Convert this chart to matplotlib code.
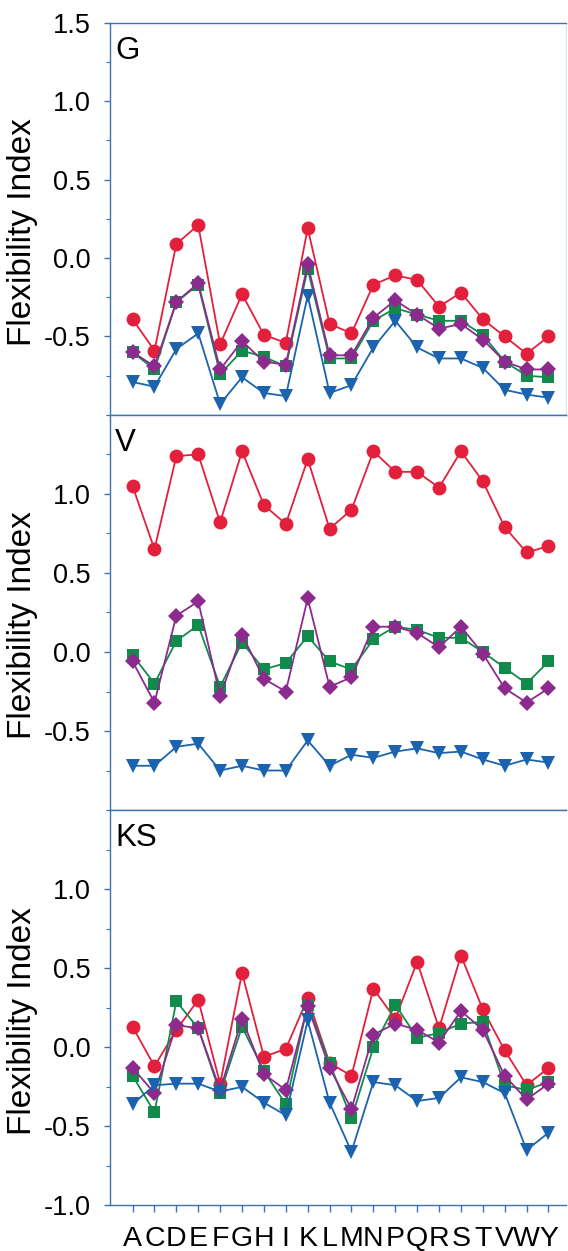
import matplotlib
matplotlib.use('Agg')
import matplotlib.pyplot as plt
from matplotlib.ticker import MultipleLocator

plt.rcParams['font.family'] = ['Liberation Sans', 'DejaVu Sans']

# amino acids on the x axis
residues = ['A', 'C', 'D', 'E', 'F', 'G', 'H', 'I', 'K', 'L',
            'M', 'N', 'P', 'Q', 'R', 'S', 'T', 'V', 'W', 'Y']

# panel G
g_red = [-0.39, -0.59, 0.09, 0.21, -0.55, -0.23, -0.49, -0.54, 0.19, -0.42,
         -0.48, -0.17, -0.11, -0.14, -0.31, -0.22, -0.39, -0.50, -0.61, -0.50]
g_green = [-0.60, -0.71, -0.28, -0.17, -0.74, -0.59, -0.63, -0.69, -0.07, -0.64,
           -0.64, -0.40, -0.32, -0.36, -0.40, -0.40, -0.49, -0.66, -0.75, -0.76]
g_purple = [-0.60, -0.69, -0.28, -0.16, -0.71, -0.53, -0.66, -0.68, -0.04, -0.62,
            -0.62, -0.38, -0.27, -0.36, -0.45, -0.42, -0.52, -0.66, -0.71, -0.71]
g_blue = [-0.79, -0.82, -0.58, -0.48, -0.93, -0.76, -0.86, -0.88, -0.24, -0.86,
          -0.81, -0.57, -0.40, -0.57, -0.64, -0.64, -0.70, -0.84, -0.87, -0.89]

# panel V
v_red = [1.05, 0.65, 1.24, 1.25, 0.82, 1.27, 0.93, 0.81, 1.22, 0.78,
         0.90, 1.27, 1.14, 1.14, 1.04, 1.27, 1.08, 0.79, 0.63, 0.67]
v_green = [-0.02, -0.20, 0.07, 0.17, -0.22, 0.06, -0.11, -0.07, 0.10, -0.06,
           -0.11, 0.08, 0.16, 0.14, 0.09, 0.09, 0.00, -0.10, -0.20, -0.06]
v_purple = [-0.06, -0.32, 0.23, 0.32, -0.28, 0.11, -0.17, -0.25, 0.34, -0.22,
            -0.16, 0.16, 0.16, 0.12, 0.03, 0.16, -0.01, -0.23, -0.32, -0.23]
v_blue = [-0.72, -0.72, -0.60, -0.58, -0.75, -0.72, -0.75, -0.75, -0.56, -0.72,
          -0.65, -0.67, -0.63, -0.61, -0.64, -0.63, -0.68, -0.72, -0.68, -0.70]

# panel KS
ks_red = [0.13, -0.12, 0.11, 0.30, -0.23, 0.47, -0.06, -0.01, 0.31, -0.10,
          -0.18, 0.37, 0.18, 0.54, 0.12, 0.58, 0.24, -0.02, -0.24, -0.13]
ks_green = [-0.18, -0.41, 0.29, 0.12, -0.29, 0.13, -0.15, -0.36, 0.27, -0.10,
            -0.45, 0.00, 0.27, 0.06, 0.09, 0.15, 0.16, -0.24, -0.27, -0.22]
ks_purple = [-0.13, -0.29, 0.14, 0.12, -0.27, 0.18, -0.17, -0.27, 0.26, -0.13,
             -0.39, 0.08, 0.15, 0.11, 0.03, 0.23, 0.11, -0.18, -0.33, -0.23]
ks_blue = [-0.36, -0.24, -0.23, -0.23, -0.28, -0.25, -0.35, -0.43, 0.17, -0.35,
           -0.66, -0.22, -0.24, -0.34, -0.32, -0.19, -0.22, -0.29, -0.65, -0.54]

panels = [
    ('G', [g_red, g_green, g_purple, g_blue], [1.5, 1.0, 0.5, 0.0, -0.5]),
    ('V', [v_red, v_green, v_purple, v_blue], [1.0, 0.5, 0.0, -0.5]),
    ('KS', [ks_red, ks_green, ks_purple, ks_blue], [1.0, 0.5, 0.0, -0.5, -1.0]),
]

styles = [
    dict(color='#e3203c', marker='o', markersize=10),
    dict(color='#128a4c', marker='s', markersize=8.5),
    dict(color='#8c2a8e', marker='D', markersize=8),
    dict(color='#1b63ae', marker='v', markersize=10),
]

SPINE = '#3a74b0'

fig = plt.figure(figsize=(5.68, 12.51), dpi=100)
left, width = 0.1937, 0.8028
bounds = [0.9819, 0.6683, 0.3525, 0.0364]

x = list(range(len(residues)))
for i, (name, series, yt) in enumerate(panels):
    top, bottom = bounds[i], bounds[i + 1]
    ax = fig.add_axes([left, bottom, width, top - bottom])
    for vals, st in zip(series, styles):
        ax.plot(x, vals, linewidth=1.3, markeredgewidth=0, clip_on=False, **st)

    ax.set_xlim(-1.03, 19.8)
    ax.set_ylim(-1.0, 1.5)
    ax.set_yticks(yt)
    ax.set_yticklabels([f'{v:.1f}' for v in yt])
    ax.yaxis.set_minor_locator(MultipleLocator(0.25))
    ax.tick_params(axis='y', which='major', direction='out', length=4, width=1,
                   color=SPINE, labelsize=19.5, pad=10)
    ax.tick_params(axis='y', which='minor', direction='out', length=3, width=0.8,
                   color=SPINE)

    ax.set_xticks(x)
    if i == 2:
        ax.set_xticklabels(residues)
        ax.tick_params(axis='x', direction='out', length=5, width=1, color=SPINE,
                       labelsize=20.5, pad=10)
    else:
        ax.tick_params(axis='x', length=0, labelbottom=False)

    for side in ['left', 'top', 'bottom']:
        ax.spines[side].set_color(SPINE)
        ax.spines[side].set_linewidth(1.0)
    ax.spines['right'].set_color('#dde3ea' if i == 0 else 'none')

    ax.set_ylabel('Flexibility Index', fontsize=24)
    ax.yaxis.set_label_coords(-0.158, 0.467)
    ax.text(0.011, 0.967, name, transform=ax.transAxes, fontsize=22.5,
            ha='left', va='top')

fig.savefig('out.png', dpi=100)
